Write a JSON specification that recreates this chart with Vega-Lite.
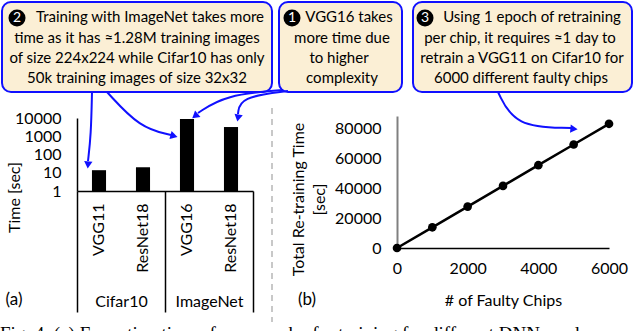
{
  "$schema": "https://vega.github.io/schema/vega-lite/v6.json",
  "width": 640,
  "height": 331,
  "autosize": "none",
  "padding": 0,
  "background": "white",
  "config": {
    "font": "Lato",
    "view": {"stroke": null},
    "axis": {"grid": false, "ticks": false, "labelFont": "Lato", "titleFont": "Lato", "labelFontSize": 16, "titleFontSize": 16, "labelColor": "black", "titleColor": "black", "titleFontWeight": "normal", "domainColor": "black", "domainWidth": 1.5}
  },
  "datasets": {
    "training": [
      {"id": "Cifar10/VGG11", "dataset": "Cifar10", "model": "VGG11", "time": 13.8},
      {"id": "Cifar10/ResNet18", "dataset": "Cifar10", "model": "ResNet18", "time": 20},
      {"id": "ImageNet/VGG16", "dataset": "ImageNet", "model": "VGG16", "time": 8800},
      {"id": "ImageNet/ResNet18", "dataset": "ImageNet", "model": "ResNet18", "time": 3200}
    ],
    "retrain": [
      {"chips": 0, "seconds": 0},
      {"chips": 1000, "seconds": 13800},
      {"chips": 2000, "seconds": 27600},
      {"chips": 3000, "seconds": 41400},
      {"chips": 4000, "seconds": 55200},
      {"chips": 5000, "seconds": 69000},
      {"chips": 6000, "seconds": 82800}
    ],
    "boxes": [
      {"box": "2", "x": 2, "x2": 272, "y": 2, "y2": 92},
      {"box": "1", "x": 279, "x2": 402, "y": 2, "y2": 92},
      {"box": "3", "x": 413, "x2": 632, "y": 2, "y2": 92}
    ],
    "badges": [
      {"num": "2", "x": 17, "y": 18},
      {"num": "1", "x": 292, "y": 18},
      {"num": "3", "x": 425, "y": 18}
    ],
    "notes": [
      {"x": 150, "y": 22, "text": "Training with ImageNet takes more"},
      {"x": 137, "y": 42.5, "text": "time as it has ≈1.28M training images"},
      {"x": 137, "y": 63, "text": "of size 224x224 while Cifar10 has only"},
      {"x": 137, "y": 83, "text": "50k training images of size 32x32"},
      {"x": 349, "y": 22, "text": "VGG16 takes"},
      {"x": 342, "y": 42.5, "text": "more time due"},
      {"x": 339, "y": 63, "text": "to higher"},
      {"x": 342, "y": 83, "text": "complexity"},
      {"x": 532, "y": 22, "text": "Using 1 epoch of retraining"},
      {"x": 520, "y": 42.5, "text": "per chip, it requires ≈1 day to"},
      {"x": 522, "y": 63, "text": "retrain a VGG11 on Cifar10 for"},
      {"x": 521, "y": 83, "text": "6000 different faulty chips"}
    ],
    "arrows": [
      {"arrow": "a1", "step": 0, "x": 92, "y": 92},
      {"arrow": "a1", "step": 1, "x": 91, "y": 135},
      {"arrow": "a1", "step": 2, "x": 88, "y": 161},
      {"arrow": "a2", "step": 0, "x": 107, "y": 92},
      {"arrow": "a2", "step": 1, "x": 140, "y": 128},
      {"arrow": "a2", "step": 2, "x": 171, "y": 135},
      {"arrow": "a3", "step": 0, "x": 283, "y": 90},
      {"arrow": "a3", "step": 1, "x": 225, "y": 95},
      {"arrow": "a3", "step": 2, "x": 198, "y": 113},
      {"arrow": "a4", "step": 0, "x": 288, "y": 91},
      {"arrow": "a4", "step": 1, "x": 240, "y": 97},
      {"arrow": "a4", "step": 2, "x": 238, "y": 114},
      {"arrow": "a5", "step": 0, "x": 498, "y": 92},
      {"arrow": "a5", "step": 1, "x": 515, "y": 127},
      {"arrow": "a5", "step": 2, "x": 571, "y": 128}
    ],
    "heads": [
      {"arrow": "a1", "x": 88, "y": 165, "angle": 185},
      {"arrow": "a2", "x": 174, "y": 136, "angle": 105},
      {"arrow": "a3", "x": 195, "y": 116, "angle": 230},
      {"arrow": "a4", "x": 238, "y": 118, "angle": 190},
      {"arrow": "a5", "x": 574, "y": 129, "angle": 95}
    ],
    "labels": [
      {"x": 14, "y": 300, "text": "(a)"},
      {"x": 307, "y": 300, "text": "(b)"}
    ],
    "separator": [{"x": 272, "y": 108, "y2": 322}],
    "caption": [{"x": 0, "y": 325, "text": "Fig. 4. (a) Execution time of one epoch of retraining for different DNNs and"}]
  },
  "layer": [
    {
      "data": {"name": "training"},
      "mark": {"type": "bar", "color": "black"},
      "encoding": {
        "x": {"field": "id", "type": "nominal", "sort": null,
          "scale": {"range": [77, 253], "paddingInner": 0.68, "paddingOuter": 0.34},
          "axis": {"orient": "bottom", "offset": -140, "title": null, "labelAngle": -90, "labelExpr": "split(datum.value, '/')[1]", "labelPadding": 12}},
        "y": {"field": "time", "type": "quantitative",
          "scale": {"type": "log", "domain": [1, 10000], "range": [191, 118], "nice": false},
          "axis": {"orient": "left", "offset": -77, "values": [1, 10, 100, 1000, 10000], "format": "d", "labelPadding": 16, "title": "Time [sec]", "titleX": -63, "titleY": 197, "titleAlign": "center", "titleBaseline": "middle", "titleAngle": -90}},
        "y2": {"datum": 1}
      }
    },
    {
      "data": {"name": "training"},
      "mark": {"type": "rule", "strokeOpacity": 0},
      "encoding": {
        "x": {"field": "dataset", "type": "nominal",
          "scale": {"range": [77, 253], "paddingInner": 0, "paddingOuter": 0},
          "axis": {"orient": "bottom", "offset": -140, "title": null, "domain": false, "ticks": true, "tickBand": "extent", "tickSize": 121, "tickColor": "black", "tickWidth": 1.5, "labelAngle": 0, "labelPadding": -11, "labelBaseline": "middle", "labelAlign": "center"}}
      }
    },
    {
      "data": {"name": "retrain"},
      "encoding": {
        "x": {"field": "chips", "type": "quantitative",
          "scale": {"domain": [0, 6000], "range": [397, 609], "nice": false},
          "axis": {"orient": "bottom", "offset": -83, "values": [0, 2000, 4000, 6000], "format": "d", "labelFlush": false, "labelPadding": 12, "title": "# of Faulty Chips", "titleY": 52, "titleBaseline": "middle"}},
        "y": {"field": "seconds", "type": "quantitative",
          "scale": {"domain": [0, 88000], "range": [248, 116], "nice": false},
          "axis": {"orient": "left", "offset": -397, "values": [0, 20000, 40000, 60000, 80000], "format": "d", "labelFlush": false, "labelPadding": 16, "domainColor": "#808080", "domainWidth": 2, "title": ["Total Re-training Time", "[sec]"], "titleX": -107, "titleY": 199, "titleAlign": "center", "titleBaseline": "top", "titleAngle": -90, "titleLineHeight": 21}}
      },
      "layer": [
        {"mark": {"type": "line", "color": "black", "strokeWidth": 2.5}},
        {"mark": {"type": "point", "filled": true, "color": "black", "size": 75, "opacity": 1}}
      ]
    },
    {
      "layer": [
        {
          "data": {"name": "separator"},
          "mark": {"type": "rule", "color": "#c8c8c8", "strokeWidth": 2, "strokeDash": [6, 5]},
          "encoding": {
            "x": {"field": "x", "type": "quantitative", "scale": {"domain": [0, 640], "range": [0, 640], "nice": false}, "axis": null},
            "y": {"field": "y", "type": "quantitative", "scale": {"domain": [0, 331], "range": [0, 331], "nice": false}, "axis": null},
            "y2": {"field": "y2"}
          }
        },
        {
          "data": {"name": "boxes"},
          "mark": {"type": "rect", "fill": "#fbefd5", "stroke": "#1010ff", "strokeWidth": 2, "cornerRadius": 9},
          "encoding": {
            "x": {"field": "x", "type": "quantitative", "scale": {"domain": [0, 640], "range": [0, 640], "nice": false}, "axis": null},
            "x2": {"field": "x2"},
            "y": {"field": "y", "type": "quantitative", "scale": {"domain": [0, 331], "range": [0, 331], "nice": false}, "axis": null},
            "y2": {"field": "y2"}
          }
        },
        {
          "data": {"name": "arrows"},
          "mark": {"type": "line", "interpolate": "basis", "color": "#1010ff", "strokeWidth": 2},
          "encoding": {
            "x": {"field": "x", "type": "quantitative", "scale": {"domain": [0, 640], "range": [0, 640], "nice": false}, "axis": null},
            "y": {"field": "y", "type": "quantitative", "scale": {"domain": [0, 331], "range": [0, 331], "nice": false}, "axis": null},
            "detail": {"field": "arrow"},
            "order": {"field": "step"}
          }
        },
        {
          "data": {"name": "heads"},
          "mark": {"type": "point", "shape": "triangle-up", "filled": true, "color": "#1010ff", "size": 70, "opacity": 1},
          "encoding": {
            "x": {"field": "x", "type": "quantitative", "scale": {"domain": [0, 640], "range": [0, 640], "nice": false}, "axis": null},
            "y": {"field": "y", "type": "quantitative", "scale": {"domain": [0, 331], "range": [0, 331], "nice": false}, "axis": null},
            "angle": {"field": "angle", "type": "quantitative", "scale": null}
          }
        },
        {
          "data": {"name": "badges"},
          "mark": {"type": "point", "shape": "circle", "filled": true, "color": "black", "size": 290, "opacity": 1},
          "encoding": {
            "x": {"field": "x", "type": "quantitative", "scale": {"domain": [0, 640], "range": [0, 640], "nice": false}, "axis": null},
            "y": {"field": "y", "type": "quantitative", "scale": {"domain": [0, 331], "range": [0, 331], "nice": false}, "axis": null}
          }
        },
        {
          "data": {"name": "badges"},
          "mark": {"type": "text", "color": "white", "fontSize": 14, "align": "center", "baseline": "middle", "font": "Lato"},
          "encoding": {
            "x": {"field": "x", "type": "quantitative", "scale": {"domain": [0, 640], "range": [0, 640], "nice": false}, "axis": null},
            "y": {"field": "y", "type": "quantitative", "scale": {"domain": [0, 331], "range": [0, 331], "nice": false}, "axis": null},
            "text": {"field": "num"}
          }
        },
        {
          "data": {"name": "notes"},
          "mark": {"type": "text", "color": "black", "fontSize": 15, "align": "center", "baseline": "alphabetic", "font": "Lato"},
          "encoding": {
            "x": {"field": "x", "type": "quantitative", "scale": {"domain": [0, 640], "range": [0, 640], "nice": false}, "axis": null},
            "y": {"field": "y", "type": "quantitative", "scale": {"domain": [0, 331], "range": [0, 331], "nice": false}, "axis": null},
            "text": {"field": "text"}
          }
        },
        {
          "data": {"name": "labels"},
          "mark": {"type": "text", "color": "black", "fontSize": 17, "align": "center", "baseline": "middle", "font": "Lato"},
          "encoding": {
            "x": {"field": "x", "type": "quantitative", "scale": {"domain": [0, 640], "range": [0, 640], "nice": false}, "axis": null},
            "y": {"field": "y", "type": "quantitative", "scale": {"domain": [0, 331], "range": [0, 331], "nice": false}, "axis": null},
            "text": {"field": "text"}
          }
        },
        {
          "data": {"name": "caption"},
          "mark": {"type": "text", "color": "black", "fontSize": 19, "align": "left", "baseline": "top", "font": "Liberation Serif"},
          "encoding": {
            "x": {"field": "x", "type": "quantitative", "scale": {"domain": [0, 640], "range": [0, 640], "nice": false}, "axis": null},
            "y": {"field": "y", "type": "quantitative", "scale": {"domain": [0, 331], "range": [0, 331], "nice": false}, "axis": null},
            "text": {"field": "text"}
          }
        }
      ]
    }
  ],
  "resolve": {"scale": {"x": "independent", "y": "independent"}, "axis": {"x": "independent", "y": "independent"}}
}
